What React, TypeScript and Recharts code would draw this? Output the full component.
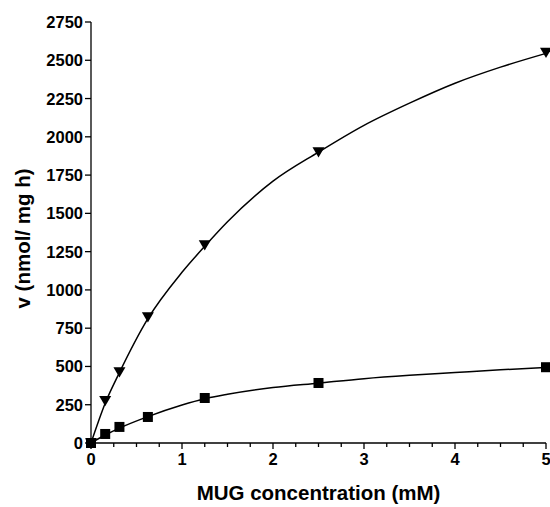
import React from 'react';
import { ComposedChart, Line, Scatter, XAxis, YAxis } from 'recharts';

// measured points
const concentrations = [0, 0.156, 0.3125, 0.625, 1.25, 2.5, 5];
const upperRates = [0, 276, 463, 823, 1293, 1900, 2550];
const lowerRates = [0, 59, 105, 170, 294, 392, 495];

// fitted curves
const fitConcentrations = [0, 0.156, 0.3125, 0.625, 1, 1.25, 1.5, 2, 2.5, 3, 3.5, 4, 4.5, 5];
const upperFit = [0, 260, 460, 812, 1115, 1285, 1445, 1710, 1900, 2075, 2220, 2350, 2455, 2545];
const lowerFit = [0, 52, 97, 172, 248, 289, 318, 362, 391, 420, 442, 460, 478, 493];

const xTicks = [0, 0.25, 0.5, 0.75, 1, 1.25, 1.5, 1.75, 2, 2.25, 2.5, 2.75, 3, 3.25, 3.5, 3.75, 4, 4.25, 4.5, 4.75, 5];
const yTicks = [0, 250, 500, 750, 1000, 1250, 1500, 1750, 2000, 2250, 2500, 2750];

const upperData = concentrations.map((c, i) => ({ c, v: upperRates[i] }));
const lowerData = concentrations.map((c, i) => ({ c, v: lowerRates[i] }));
const upperFitData = fitConcentrations.map((c, i) => ({ c, v: upperFit[i] }));
const lowerFitData = fitConcentrations.map((c, i) => ({ c, v: lowerFit[i] }));

const FONT = '"Liberation Sans", Arial, sans-serif';

const Triangle = (props: any) => {
  const { cx, cy } = props;
  if (cx == null || cy == null) return null;
  const s = 6;
  return <path d={`M${cx - s},${cy - s * 0.8} L${cx + s},${cy - s * 0.8} L${cx},${cy + s * 0.9} Z`} fill="#000" />;
};

const Square = (props: any) => {
  const { cx, cy } = props;
  if (cx == null || cy == null) return null;
  return <rect x={cx - 5} y={cy - 5} width={10} height={10} fill="#000" />;
};

const XTick = (props: any) => {
  const { x, y, payload } = props;
  const major = Number.isInteger(payload.value);
  return (
    <g>
      <line x1={x} y1={y} x2={x} y2={y + (major ? 6 : 4)} stroke="#000" strokeWidth={1.3} />
      {major && (
        <text x={x} y={y + 22} textAnchor="middle" fontFamily={FONT} fontWeight="bold" fontSize={16.5} fill="#000">
          {payload.value}
        </text>
      )}
    </g>
  );
};

const YTick = (props: any) => {
  const { x, y, payload } = props;
  return (
    <g>
      <line x1={x - 6} y1={y} x2={x} y2={y} stroke="#000" strokeWidth={1.3} />
      <text x={x - 8} y={y + 6} textAnchor="end" fontFamily={FONT} fontWeight="bold" fontSize={16.5} fill="#000">
        {payload.value}
      </text>
    </g>
  );
};

export default function App() {
  return (
    <div style={{ position: 'absolute', left: 0, top: 0, background: '#fff' }}>
      <ComposedChart width={550} height={507} margin={{ top: 22, right: 4, bottom: 0, left: 0 }}>
        <XAxis
          type="number"
          dataKey="c"
          domain={[0, 5]}
          ticks={xTicks}
          interval={0}
          tick={<XTick />}
          tickLine={false}
          tickSize={0}
          tickMargin={0}
          height={64}
          axisLine={{ stroke: '#000', strokeWidth: 1.3 }}
          label={{
            content: (p: any) => (
              <text
                x={p.viewBox.x + p.viewBox.width / 2}
                y={p.viewBox.y + 57}
                textAnchor="middle"
                fontFamily={FONT}
                fontWeight="bold"
                fontSize={20.5}
                fill="#000"
              >
                MUG concentration (mM)
              </text>
            ),
          }}
        />
        <YAxis
          type="number"
          domain={[0, 2750]}
          ticks={yTicks}
          interval={0}
          width={91}
          tick={<YTick />}
          tickLine={false}
          tickSize={0}
          tickMargin={0}
          axisLine={{ stroke: '#000', strokeWidth: 1.3 }}
          label={{
            content: (p: any) => {
              const cx = 22;
              const cy = p.viewBox.y + p.viewBox.height / 2 + 6;
              return (
                <text
                  x={cx}
                  y={cy}
                  transform={`rotate(-90 ${cx} ${cy})`}
                  textAnchor="middle"
                  dominantBaseline="central"
                  fontFamily={FONT}
                  fontWeight="bold"
                  fontSize={20.5}
                  fill="#000"
                >
                  v (nmol/ mg h)
                </text>
              );
            },
          }}
        />
        <Line
          data={upperFitData}
          dataKey="v"
          type="monotone"
          stroke="#000"
          strokeWidth={1.5}
          dot={false}
          activeDot={false}
          isAnimationActive={false}
        />
        <Line
          data={lowerFitData}
          dataKey="v"
          type="monotone"
          stroke="#000"
          strokeWidth={1.5}
          dot={false}
          activeDot={false}
          isAnimationActive={false}
        />
        <Scatter data={upperData} dataKey="v" shape={<Triangle />} isAnimationActive={false} />
        <Scatter data={lowerData} dataKey="v" shape={<Square />} isAnimationActive={false} />
      </ComposedChart>
    </div>
  );
}
